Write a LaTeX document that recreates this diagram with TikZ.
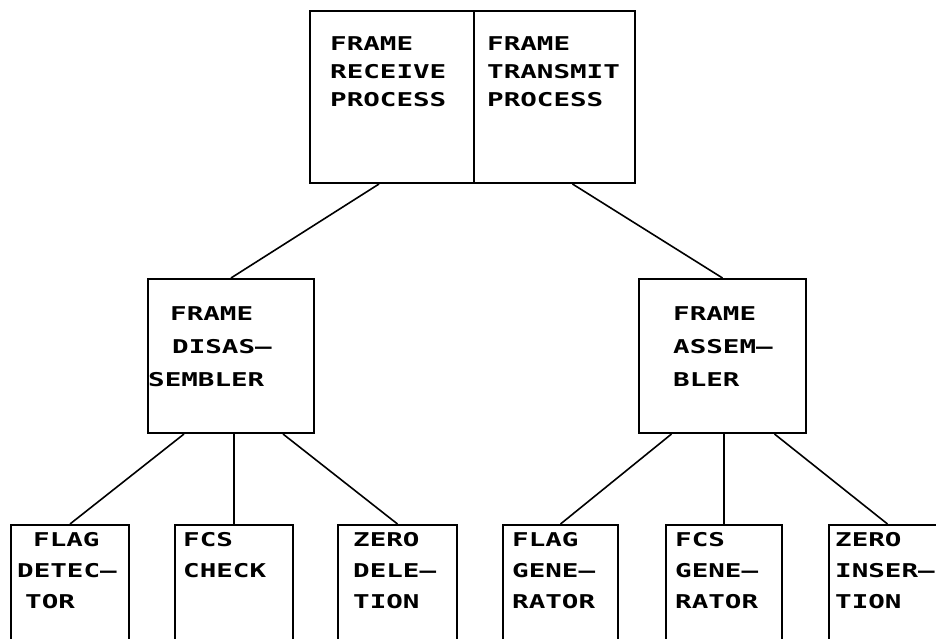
\documentclass[tikz,border=0pt]{standalone}
\usepackage{fontspec}
\newfontfamily\plotfont[FakeStretch=1.45,UprightFont=*,BoldFont=* Bold]{DejaVu Sans Mono}
\usetikzlibrary{calc}
\begin{document}
\begin{tikzpicture}[x=1pt,y=-1pt,
  box/.style={draw,line width=2pt,rectangle,inner sep=0pt,anchor=north west},
  txt/.style={inner sep=0pt,anchor=west,align=left,
    font=\plotfont\bfseries\fontsize{19}{#1}\selectfont},
  link/.style={line width=1.6pt}]
\useasboundingbox (0,0) rectangle (936,638);
\fill[white] (0,0) rectangle (936,638);
\clip (0,0) rectangle (936,638);

% top level: receive / transmit halves
\node[box,minimum width=164pt,minimum height=172pt] (recv) at (309,10) {};
\node[box,minimum width=161pt,minimum height=172pt] (xmit) at (473,10) {};

% second level
\node[box,minimum width=166pt,minimum height=154pt] (disas) at (147,278) {};
\node[box,minimum width=167pt,minimum height=154pt] (assem) at (638,278) {};

% third level (runs off the lower edge)
\node[box,minimum width=118pt,minimum height=130pt] (flagdet) at (10,524) {};
\node[box,minimum width=118pt,minimum height=130pt] (fcschk)  at (174,524) {};
\node[box,minimum width=119pt,minimum height=130pt] (zerodel) at (337,524) {};
\node[box,minimum width=115pt,minimum height=130pt] (flaggen) at (502,524) {};
\node[box,minimum width=116pt,minimum height=130pt] (fcsgen)  at (665,524) {};
\node[box,minimum width=117pt,minimum height=130pt] (zeroins) at (828,524) {};

% labels
\node[txt=28] (recv-t) at (330,72) {FRAME\\RECEIVE\\PROCESS};
\node[txt=28] (xmit-t) at (487,72) {FRAME\\TRANSMIT\\PROCESS};
\node[txt=33] (disas-t) at (148,347) {\hspace*{22pt}FRAME\\\hspace*{24pt}DISAS–\\SEMBLER};
\node[txt=33] (assem-t) at (673,347) {FRAME\\ASSEM–\\BLER};
\node[txt=31] (flagdet-t) at (17,571) {\hspace*{16pt}FLAG\\DETEC–\\\hspace*{8pt}TOR};
\node[txt=31] (fcschk-t) at (183,555.5) {FCS\\CHECK};
\node[txt=31] (zerodel-t) at (353,571) {ZERO\\DELE–\\TION};
\node[txt=31] (flaggen-t) at (512,571) {FLAG\\GENE–\\RATOR};
\node[txt=31] (fcsgen-t) at (675,571) {FCS\\GENE–\\RATOR};
\node[txt=31] (zeroins-t) at (835,571) {ZERO\\INSER–\\TION};

% connectors
\draw[link] ($(recv.south)+(-13,0)$) -- (disas.north);
\draw[link] ($(xmit.south)+(18,0)$) -- (assem.north);
\draw[link] ($(disas.south)+(-47,0)$) -- (flagdet.north);
\draw[link] (fcschk.north |- disas.south) -- (fcschk.north);
\draw[link] ($(disas.south)+(52,0)$) -- (zerodel.north);
\draw[link] ($(assem.south)+(-51,0)$) -- (flaggen.north);
\draw[link] (fcsgen.north |- assem.south) -- (fcsgen.north);
\draw[link] ($(assem.south)+(52,0)$) -- (zeroins.north);
\end{tikzpicture}
\end{document}
